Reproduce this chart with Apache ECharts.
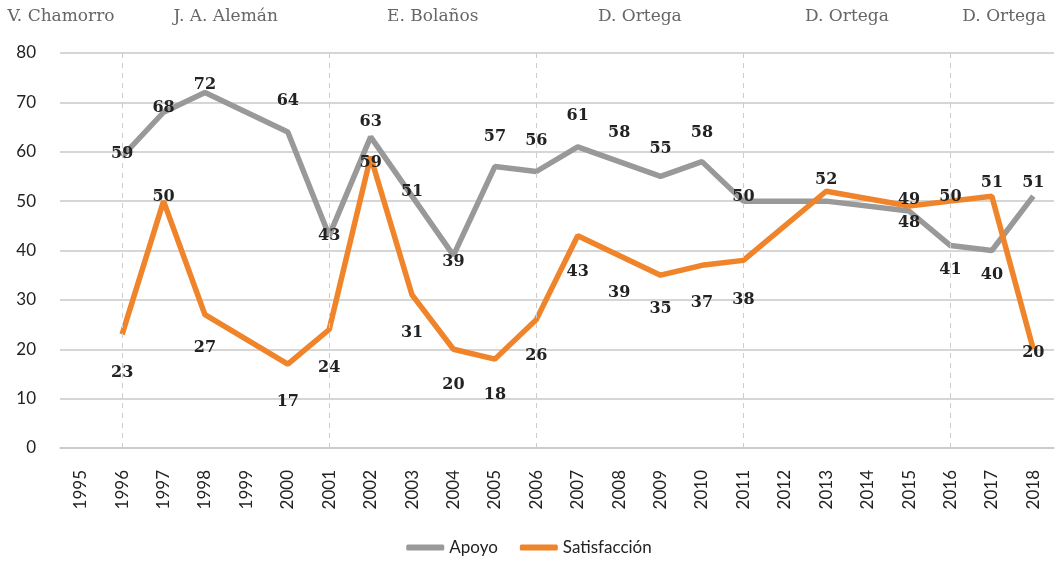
<!DOCTYPE html>
<html><head><meta charset="utf-8">
<script src="https://cdn.jsdelivr.net/npm/echarts@6/dist/echarts.min.js"></script>
<style>html,body{margin:0;padding:0;background:#fff}#c{width:1058px;height:569px}</style>
</head><body><div id="c"></div>
<script>
const years = ['1995','1996','1997','1998','1999','2000','2001','2002','2003','2004','2005','2006','2007','2008','2009','2010','2011','2012','2013','2014','2015','2016','2017','2018'];
const apoyo = [null,59,68,72,null,64,43,63,51,39,57,56,61,58,55,58,50,null,50,null,48,41,40,51];
const satisfaccion = [null,23,50,27,null,17,24,59,31,20,18,26,43,39,35,37,38,null,52,null,49,50,51,20];
const yTicks = [0,10,20,30,40,50,60,70,80];
const periodBreaks = ['1996','2001','2006','2011','2016'];
const presidents = ['V. Chamorro','J. A. Alemán','E. Bolaños','D. Ortega','D. Ortega','D. Ortega'];

// label vertical shifts (px) relative to each point; 'x' = hidden
const apoyoLabelDy = [0,-3,-4,-8,0,-31,0,-15,-4,6,-30,-31,-31,-29,-28,-29,-4,0,'x',0,12,24,24,-13];
const satLabelDy = [0,38,-4,33,0,38,38,6,38,36,36,36,36,37,34,38,39,0,-11,0,-6,-4,-13,4];

const valueFont = {fontFamily:'DejaVu Serif', fontSize:16, fontWeight:'bold', color:'#222'};

function build(vals, dys){
  return vals.map((v,i)=>{
    if(v===null) return null;
    const dy = dys[i];
    return {value:v, label:{show: dy!=='x', position:'inside', offset:[0, dy==='x'?0:dy]}};
  });
}

const chart = echarts.init(document.getElementById('c'));
chart.setOption({
  animation:false,
  grid:{left:60, right:4, top:53, bottom:121},
  legend:{bottom:8, left:'center', itemWidth:38, itemHeight:6, itemGap:22, icon:'roundRect',
    textStyle:{fontFamily:'Lato', fontSize:17, color:'#222'},
    data:['Apoyo','Satisfacción']},
  xAxis:{type:'category', data:years, boundaryGap:true,
    axisLine:{lineStyle:{color:'#c8c8c8', width:1.5}}, axisTick:{show:false},
    axisLabel:{rotate:90, margin:22, fontFamily:'Lato', fontSize:17, color:'#222', interval:0}},
  yAxis:[{type:'value', min:0, max:80, interval:10,
    axisLine:{show:false}, axisTick:{show:false},
    splitLine:{lineStyle:{color:'#c8c8c8', width:1.5}},
    axisLabel:{margin:24, fontFamily:'Lato', fontSize:17, color:'#222',
      formatter:v=>yTicks.includes(v)?String(v):''}},
    {type:'value', min:0, max:84, show:false, splitLine:{show:false}}],
  series:[
    {name:'Apoyo', type:'line', data:build(apoyo, apoyoLabelDy), connectNulls:true, showSymbol:true, symbol:'circle', symbolSize:0.1,
     lineStyle:{color:'#999999', width:5.5}, itemStyle:{color:'#999999'},
     label:{show:true, ...valueFont}, z:3},
    {name:'Satisfacción', type:'line', data:build(satisfaccion, satLabelDy), connectNulls:true, showSymbol:true, symbol:'circle', symbolSize:0.1,
     lineStyle:{color:'#f0842a', width:5.5}, itemStyle:{color:'#f0842a'},
     label:{show:true, ...valueFont}, z:4},
    {name:'breaks', type:'line', yAxisIndex:1, data:[], silent:true,
     markLine:{silent:true, symbol:'none', label:{show:false},
       lineStyle:{color:'#cccccc', type:[5,5], width:1},
       data: periodBreaks.map(y=>[{coord:[y,0]},{coord:[y,84]}])}}
  ]
});

// president labels centred between period breaks
const px = periodBreaks.map(y=>chart.convertToPixel({xAxisIndex:0}, y));
const edges = [0, ...px, 1058];
chart.setOption({graphic: presidents.map((name,i)=>({
  type:'text', x:(edges[i]+edges[i+1])/2, y:8,
  style:{text:name, fontFamily:'DejaVu Serif', fontSize:17, fill:'#666', textAlign:'center'}
}))});
</script></body></html>
